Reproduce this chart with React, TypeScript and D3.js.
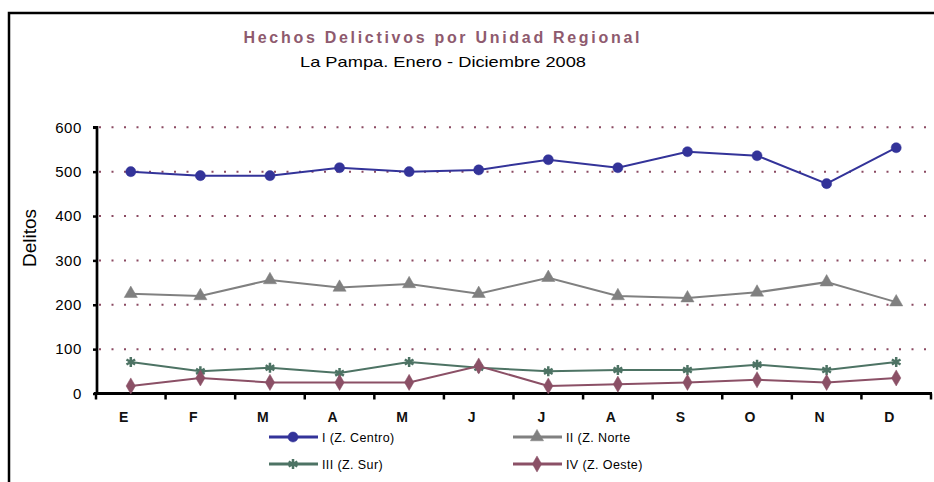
import React, { useEffect, useRef } from 'react';
import * as d3 from 'd3';

const months = ['E', 'F', 'M', 'A', 'M', 'J', 'J', 'A', 'S', 'O', 'N', 'D'];
const yTicks = [0, 100, 200, 300, 400, 500, 600];

const centro = [500, 491, 491, 509, 500, 504, 527, 509, 545, 536, 473, 554];
const norte = [225, 220, 256, 239, 247, 225, 261, 220, 215, 228, 251, 206];
const sur = [71, 50, 58, 46, 71, 58, 50, 53, 53, 65, 53, 71];
const oeste = [17, 35, 25, 25, 25, 62, 17, 21, 25, 31, 25, 35];

const seriesNames = ['I (Z. Centro)', 'II (Z. Norte', 'III (Z. Sur)', 'IV (Z. Oeste)'];
const seriesColors = ['#333399', '#808080', '#4d7364', '#8b5066'];
const seriesMarkers = ['circle', 'triangle', 'star', 'diamond'];

const App = () => {
  const svgRef = useRef<SVGSVGElement>(null);

  useEffect(() => {
    const svg = d3.select(svgRef.current);
    svg.selectAll('*').remove();

    const width = 934;
    const height = 482;
    const font = 'Arial, "Liberation Sans", sans-serif';

    svg.attr('width', width).attr('height', height);

    // frame (only top and left visible)
    svg.append('path')
      .attr('d', `M9,${height} L9,13 L${width},13`)
      .attr('fill', 'none')
      .attr('stroke', '#000')
      .attr('stroke-width', 2.5);

    // titles
    svg.append('text')
      .attr('x', 441.5)
      .attr('y', 43)
      .attr('text-anchor', 'middle')
      .attr('font-family', font)
      .attr('font-size', 16)
      .attr('font-weight', 'bold')
      .attr('fill', '#8e5a6e')
      .attr('textLength', 396)
      .attr('lengthAdjust', 'spacing')
      .text('Hechos Delictivos por Unidad Regional');

    svg.append('text')
      .attr('x', 443)
      .attr('y', 67)
      .attr('text-anchor', 'middle')
      .attr('font-family', font)
      .attr('font-size', 15)
      .attr('fill', '#000')
      .attr('textLength', 286)
      .attr('lengthAdjust', 'spacingAndGlyphs')
      .text('La Pampa. Enero - Diciembre  2008');

    const x = d3.scaleBand<number>().domain(d3.range(months.length)).range([96, 931]);
    const y = d3.scaleLinear().domain([0, 600]).range([393.5, 127.3]);

    // dotted grid
    svg.append('g')
      .selectAll('line')
      .data(yTicks.filter((t) => t > 0))
      .enter()
      .append('line')
      .attr('x1', 99)
      .attr('x2', 931)
      .attr('y1', (d) => y(d))
      .attr('y2', (d) => y(d))
      .attr('stroke', '#8b4a62')
      .attr('stroke-width', 2)
      .attr('stroke-dasharray', '2 10.5');

    // y axis
    const yAxis = svg.append('g')
      .attr('transform', 'translate(97,0)')
      .call(d3.axisLeft(y).tickValues(yTicks).tickSize(4).tickPadding(11).tickFormat(d3.format('d')));
    yAxis.select('.domain').attr('stroke-width', 2.7).attr('d', `M-4,${y(600)}H0V${y(0)}`);
    yAxis.selectAll('.tick line').attr('stroke-width', 2.5);
    yAxis.selectAll('.tick text')
      .attr('font-family', font)
      .attr('font-size', 15)
      .attr('letter-spacing', 0.6)
      .attr('fill', '#000');

    // x axis
    const xAxis = svg.append('g').attr('transform', `translate(0,${y(0)})`);
    xAxis.append('line')
      .attr('x1', 94)
      .attr('x2', 932)
      .attr('stroke', '#000')
      .attr('stroke-width', 3);
    xAxis.selectAll('.xt')
      .data(d3.range(months.length + 1))
      .enter()
      .append('line')
      .attr('class', 'xt')
      .attr('x1', (d) => (d < months.length ? (x(d) as number) : x.range()[1]))
      .attr('x2', (d) => (d < months.length ? (x(d) as number) : x.range()[1]))
      .attr('y1', 0)
      .attr('y2', 6)
      .attr('stroke', '#000')
      .attr('stroke-width', 2.5);
    xAxis.selectAll('.xl')
      .data(months)
      .enter()
      .append('text')
      .attr('class', 'xl')
      .attr('x', (d, i) => (x(i) as number) + x.bandwidth() / 2 - 7)
      .attr('y', 28)
      .attr('text-anchor', 'middle')
      .attr('font-family', font)
      .attr('font-size', 14)
      .attr('font-weight', 'bold')
      .attr('fill', '#111')
      .text((d) => d);

    // y label
    svg.append('text')
      .attr('transform', 'translate(36,238) rotate(-90)')
      .attr('text-anchor', 'middle')
      .attr('font-family', font)
      .attr('font-size', 19)
      .attr('fill', '#000')
      .text('Delitos');

    const symbolFor = (m: string) => {
      if (m === 'circle') return d3.symbol().type(d3.symbolCircle).size(80);
      if (m === 'triangle') return d3.symbol().type(d3.symbolTriangle).size(75);
      if (m === 'star') return d3.symbol().type(d3.symbolAsterisk).size(70);
      return d3.symbol().type(d3.symbolDiamond).size(75);
    };

    const line = d3.line<number>()
      .x((d, i) => (x(i) as number) + x.bandwidth() / 2)
      .y((d) => y(d));

    const allSeries = [centro, norte, sur, oeste];
    allSeries.forEach((values, s) => {
      const color = seriesColors[s];
      svg.append('path')
        .datum(values)
        .attr('fill', 'none')
        .attr('stroke', color)
        .attr('stroke-width', 2)
        .attr('d', line);
      const sym = symbolFor(seriesMarkers[s]);
      svg.append('g')
        .selectAll('path')
        .data(values)
        .enter()
        .append('path')
        .attr('transform', (d, i) => `translate(${(x(i) as number) + x.bandwidth() / 2},${y(d)})`)
        .attr('d', sym as any)
        .attr('fill', color)
        .attr('stroke', color)
        .attr('stroke-width', seriesMarkers[s] === 'star' ? 2.5 : 0.5);
    });

    // legend
    const legendPos = [
      { x: 269, y: 437 },
      { x: 513, y: 437 },
      { x: 269, y: 464 },
      { x: 513, y: 464 },
    ];
    seriesNames.forEach((name, s) => {
      const p = legendPos[s];
      const g = svg.append('g').attr('transform', `translate(${p.x},${p.y})`);
      g.append('line')
        .attr('x1', 0)
        .attr('x2', 49)
        .attr('stroke', seriesColors[s])
        .attr('stroke-width', 3);
      g.append('path')
        .attr('transform', 'translate(24,0)')
        .attr('d', symbolFor(seriesMarkers[s]) as any)
        .attr('fill', seriesColors[s])
        .attr('stroke', seriesColors[s])
        .attr('stroke-width', seriesMarkers[s] === 'star' ? 2.5 : 0.5);
      g.append('text')
        .attr('x', 53)
        .attr('y', 4.5)
        .attr('font-family', font)
        .attr('font-size', 12.5)
        .attr('letter-spacing', 0.4)
        .attr('fill', '#000')
        .text(name);
    });
  }, []);

  return (
    <div style={{ position: 'absolute', left: 0, top: 0, background: '#fff' }}>
      <svg ref={svgRef}></svg>
    </div>
  );
};

export default App;
